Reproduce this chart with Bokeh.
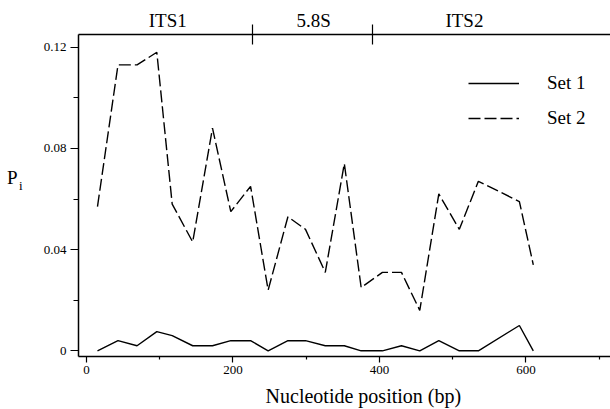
from bokeh.plotting import figure
from bokeh.models import FixedTicker, LinearAxis, Legend, LegendItem, Range1d
from bokeh.embed import file_html
from bokeh.resources import INLINE

# ---------------- data ----------------
position_bp = [15, 43, 69, 96, 117, 145, 172, 197, 224, 248, 275, 299, 326,
               352, 375, 404, 430, 455, 481, 509, 535, 591, 610]
set1_pi = [0.000, 0.004, 0.002, 0.0076, 0.006, 0.002, 0.002, 0.004, 0.004, 0.000,
           0.004, 0.004, 0.002, 0.002, 0.000, 0.000, 0.002, 0.000, 0.004, 0.000,
           0.000, 0.010, 0.000]
set2_pi = [0.057, 0.113, 0.113, 0.118, 0.058, 0.043, 0.088, 0.055, 0.065, 0.024,
           0.053, 0.048, 0.031, 0.074, 0.025, 0.031, 0.031, 0.016, 0.062, 0.048,
           0.067, 0.059, 0.034]
series_names = ["Set 1", "Set 2"]
region_names = ["ITS1", "5.8S", "ITS2"]
region_label_bp = [111, 310, 516]
region_bounds_bp = [226, 391]
x_ticks = [0, 200, 400, 600]
x_minor = [100, 300, 500, 700]
y_ticks = [0, 0.04, 0.08, 0.12]
y_tick_labels = ["0", "0.04", "0.08", "0.12"]
y_minor = [0.02, 0.06, 0.10]
x_title = "Nucleotide position (bp)"
x_title_bp = 378
y_title_main, y_title_sub = "P", "i"
y_title_pi = 0.0684
y_title_sub_pi = 0.0652

# ---------------- layout ----------------
FIG_W, FIG_H = 610, 409
ML, MT, MB, MR = 78, 34, 53, 0
X0, X1 = -10.92, 715.4
Y0, Y1 = -0.00225, 0.12502
SERIF = "Liberation Serif"

p = figure(width=FIG_W, height=FIG_H, output_backend="svg", toolbar_location=None,
           x_range=Range1d(X0, X1), y_range=Range1d(Y0, Y1),
           min_border_left=ML, min_border_top=MT, min_border_bottom=MB,
           min_border_right=MR)
p.outline_line_color = None
p.grid.visible = False
p.background_fill_color = "white"
p.border_fill_color = "white"

def style_axis(ax):
    ax.axis_line_color = "black"
    ax.axis_line_width = 1.5
    ax.major_tick_line_color = "black"
    ax.major_tick_line_width = 1.2
    ax.minor_tick_line_color = "black"
    ax.minor_tick_line_width = 1.2
    ax.major_tick_in = 0
    ax.minor_tick_in = 0
    ax.major_label_text_font = SERIF
    ax.major_label_text_font_size = "13px"
    ax.major_label_text_color = "black"

def text_axis(ax, size):
    ax.axis_line_color = None
    ax.major_tick_line_color = None
    ax.minor_tick_line_color = None
    ax.major_tick_out = 0
    ax.major_tick_in = 0
    ax.minor_tick_out = 0
    ax.minor_tick_in = 0
    ax.major_label_text_font = SERIF
    ax.major_label_text_font_size = size
    ax.major_label_text_color = "black"

# bottom axis with ticks
xa = p.xaxis[0]
style_axis(xa)
xa.ticker = FixedTicker(ticks=x_ticks, minor_ticks=x_minor)
xa.major_tick_out = 6
xa.minor_tick_out = 3
xa.major_label_standoff = 3

# x title placed through a tick label
xt = LinearAxis(ticker=FixedTicker(ticks=[x_title_bp], minor_ticks=[]),
                major_label_overrides={x_title_bp: x_title})
text_axis(xt, "20px")
xt.major_label_standoff = 8
p.add_layout(xt, "below")

# left axis with ticks
ya = p.yaxis[0]
style_axis(ya)
ya.ticker = FixedTicker(ticks=y_ticks, minor_ticks=y_minor)
ya.major_label_overrides = {t: l for t, l in zip(y_ticks, y_tick_labels)}
ya.major_tick_out = 8
ya.minor_tick_out = 5
ya.major_label_standoff = 4

# y title "P" with subscript "i"
ysub = LinearAxis(ticker=FixedTicker(ticks=[y_title_sub_pi], minor_ticks=[]),
                  major_label_overrides={y_title_sub_pi: y_title_sub})
text_axis(ysub, "13px")
ysub.major_label_standoff = 18
p.add_layout(ysub, "left")
ymain = LinearAxis(ticker=FixedTicker(ticks=[y_title_pi], minor_ticks=[]),
                   major_label_overrides={y_title_pi: y_title_main})
text_axis(ymain, "19px")
ymain.major_label_standoff = -2
p.add_layout(ymain, "left")

# top axis: region names and boundary marks
top = LinearAxis(ticker=FixedTicker(ticks=region_label_bp, minor_ticks=region_bounds_bp),
                 major_label_overrides={b: n for b, n in zip(region_label_bp, region_names)})
top.axis_line_color = "black"
top.axis_line_width = 1.5
top.major_tick_line_color = None
top.major_tick_out = 0
top.major_tick_in = 0
top.minor_tick_line_color = "black"
top.minor_tick_line_width = 1.2
top.minor_tick_in = 10
top.minor_tick_out = 10
top.major_label_text_font = SERIF
top.major_label_text_font_size = "19px"
top.major_label_text_color = "black"
top.major_label_standoff = -6
p.add_layout(top, "above")

# data lines
r1 = p.line(position_bp, set1_pi, line_color="black", line_width=1.4)
r2 = p.line(position_bp, set2_pi, line_color="black", line_width=1.4,
            line_dash="12 4")

legend = Legend(items=[LegendItem(label=series_names[0], renderers=[r1]),
                       LegendItem(label=series_names[1], renderers=[r2])],
                location=(390, 227), orientation="vertical",
                glyph_width=51, glyph_height=20, label_height=20,
                label_standoff=28, spacing=13, padding=0, margin=0,
                border_line_color=None, background_fill_alpha=0,
                label_text_font=SERIF, label_text_font_size="19px",
                label_text_color="black")
p.add_layout(legend)

open("out.html", "w").write(file_html(p, INLINE))
